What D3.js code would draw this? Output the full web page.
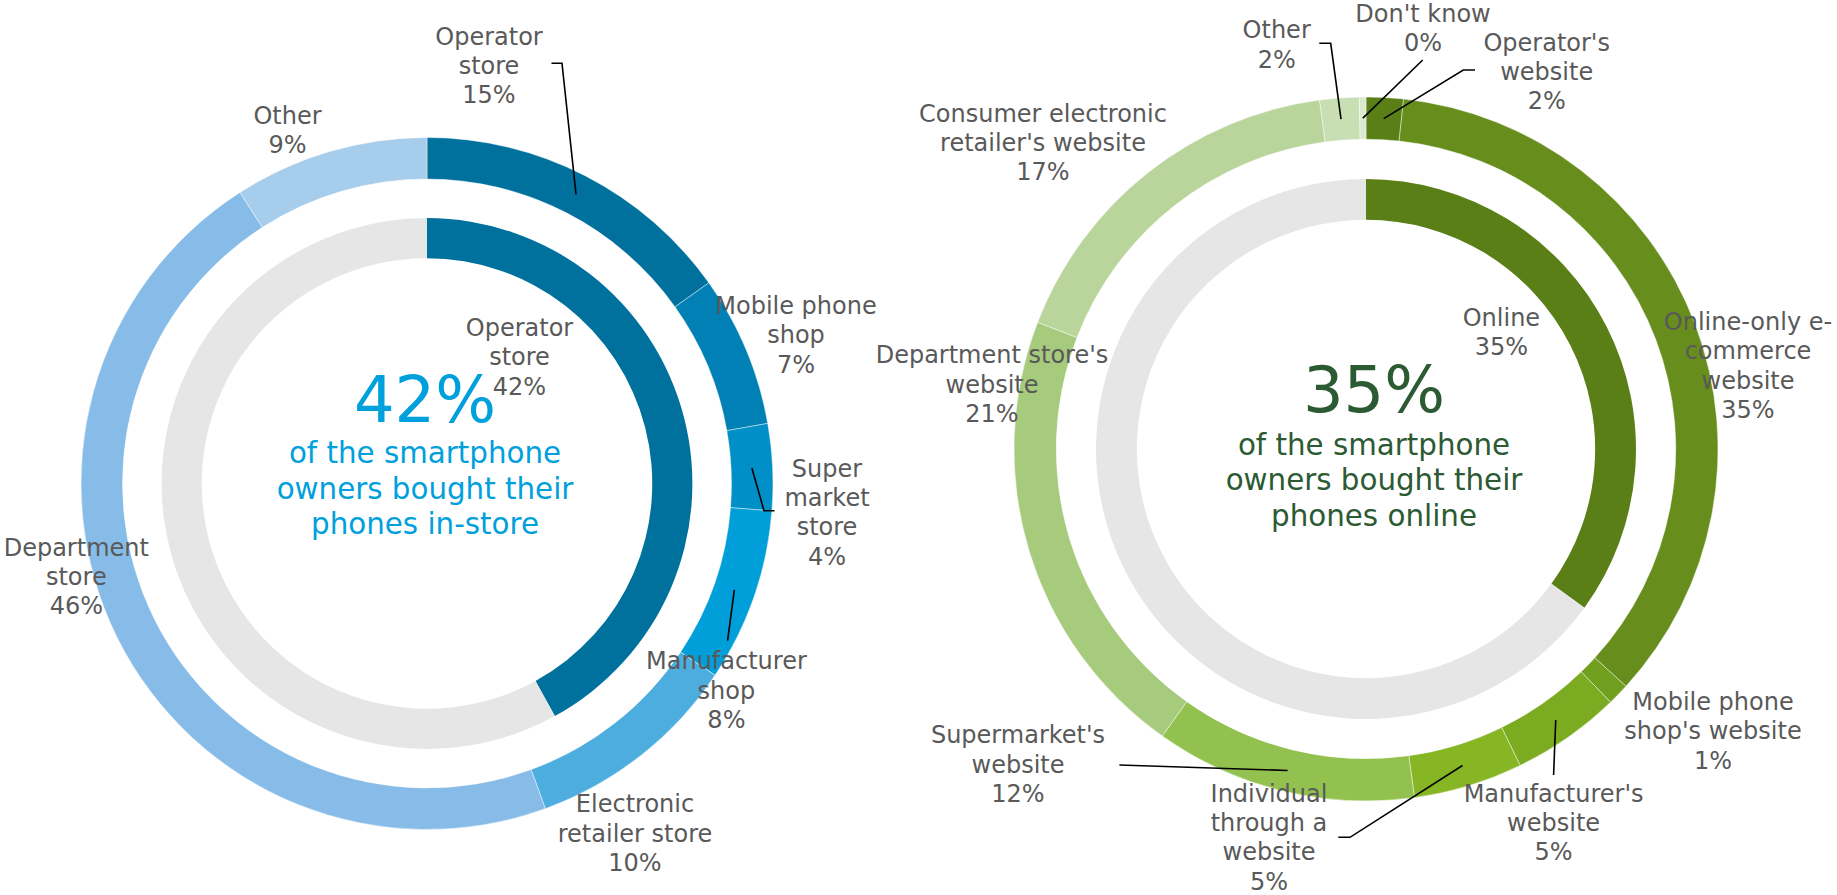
<!DOCTYPE html>
<html><head><meta charset="utf-8">
<script src="https://cdn.jsdelivr.net/npm/d3@7"></script>
<style>
html,body{margin:0;padding:0;background:#fff;overflow:hidden;}
svg{display:block;font-family:"DejaVu Sans",Verdana,sans-serif;}
</style></head><body>
<svg id="chart" width="1837" height="895"></svg>
<script>
// ---------- DATA ----------
// In-store chart (left)
const storeCategories = ["Operator\nstore", "Mobile phone\nshop", "Super\nmarket\nstore", "Manufacturer\nshop", "Electronic\nretailer store", "Department\nstore", "Other"];
const storeValues = [15, 7, 4, 8, 10, 46, 9];
const storeShareCategories = ["Operator\nstore", "Rest"];
const storeShareValues = [42, 58];
const storeHeadline = "42%";
const storeSubtitle = ["of the smartphone", "owners bought their", "phones in-store"];

// Online chart (right) — slice sizes, labels show rounded values
const onlineCategories = ["Operator's\nwebsite", "Online-only e-\ncommerce\nwebsite", "Mobile phone\nshop's website", "Manufacturer's\nwebsite", "Individual\nthrough a\nwebsite", "Supermarket's\nwebsite", "Department store's\nwebsite", "Consumer electronic\nretailer's website", "Other", "Don't know"];
const onlineValues = [1.7, 35, 1, 5, 5, 12, 21, 17, 1.8, 0.3];
const onlineShareCategories = ["Online", "Rest"];
const onlineShareValues = [35, 65];
const onlineHeadline = "35%";
const onlineSubtitle = ["of the smartphone", "owners bought their", "phones online"];

// ---------- STYLE ----------
const storeColors = ["#00709d", "#0080b4", "#008fc6", "#009fd9", "#4eaddf", "#86bce7", "#a7cdec"];
const storeShareColors = ["#00709d", "#e6e6e6"];
const onlineColors = ["#5a7f17", "#678e1d", "#719f1f", "#7bab21", "#86b624", "#93c14f", "#a7cb7d", "#b9d59c", "#c8dfb3", "#dbe9ce"];
const onlineShareColors = ["#5a7f17", "#e6e6e6"];

// ---------- LAYOUT (label anchors: centre x, first baseline y; leader elbow points) ----------
const storeLayout = {
  cx: 427, cy: 483.5, R: 346, accent: "#00a0dc",
  headline: [425, 421.7], subtitleY: 463.3,
  shareLabel: [519.5, 336],
  labels: [
    {x: 489, y: 44.5, leader: [[551.5, 63.3], [562, 63.3]]},
    {x: 796, y: 314},
    {x: 827, y: 476.7, leader: [[774.5, 510.7], [764, 510.7]]},
    {x: 726.4, y: 669.3, leader: [[727.6, 640.7]]},
    {x: 635, y: 812.3},
    {x: 76.3, y: 555.7},
    {x: 287.5, y: 124}
  ]
};
const onlineLayout = {
  cx: 1366, cy: 449, R: 352, accent: "#2c5a33",
  headline: [1374, 411.7], subtitleY: 455,
  shareLabel: [1501.4, 326],
  labels: [
    {x: 1546.7, y: 50.7, leader: [[1475, 70], [1463.3, 70]]},
    {x: 1748, y: 330},
    {x: 1713, y: 710},
    {x: 1553.6, y: 801.7, leader: [[1553.6, 775]]},
    {x: 1269, y: 801.7, leader: [[1338.3, 837.3], [1350, 837.3]]},
    {x: 1018, y: 743.3, leader: [[1119.4, 765]]},
    {x: 992, y: 363.3},
    {x: 1043, y: 121.7},
    {x: 1276.7, y: 38.3, leader: [[1319.3, 43.3], [1330.7, 43.3]]},
    {x: 1423, y: 21.7, leader: [[1422.7, 60]]}
  ]
};

const LABEL_SIZE = 24, LABEL_LH = 29.3, SUB_SIZE = 29.33, SUB_LH = 35.4, HEAD_SIZE = 64;
const TEXT_GREY = "#595959";

const svg = d3.select("#chart");

function multiLine(sel, lines, x, y, lh) {
  lines.forEach((t, i) => {
    sel.append("tspan").attr("x", x).attr("y", y + i * lh).text(t);
  });
}

function drawDonut(cats, vals, colors, shareCats, shareVals, shareColors, headline, subtitle, L) {
  const g = svg.append("g").attr("transform", `translate(${L.cx},${L.cy})`);
  const pie = d3.pie().sort(null).value(d => d.value).startAngle(0).endAngle(2 * Math.PI);
  const outerArc = d3.arc().innerRadius(L.R * 0.88).outerRadius(L.R);
  const innerArc = d3.arc().innerRadius(L.R * 0.651).outerRadius(L.R * 0.767);

  const outerData = pie(cats.map((c, i) => ({cat: c, value: vals[i], i})));
  const innerData = pie(shareCats.map((c, i) => ({cat: c, value: shareVals[i], i})));

  g.selectAll("path.inner").data(innerData).join("path")
    .attr("class", "inner").attr("d", innerArc)
    .attr("fill", d => shareColors[d.data.i]);

  g.selectAll("path.outer").data(outerData).join("path")
    .attr("class", "outer").attr("d", outerArc)
    .attr("fill", d => colors[d.data.i])
    .attr("stroke", "rgba(255,255,255,0.55)").attr("stroke-width", 0.8);

  // leaders
  outerData.forEach(d => {
    const lay = L.labels[d.data.i];
    if (!lay.leader) return;
    const c = outerArc.centroid(d);
    const pts = lay.leader.concat([[c[0] + L.cx, c[1] + L.cy]]);
    svg.append("path")
      .attr("d", d3.line()(pts))
      .attr("fill", "none").attr("stroke", "#000").attr("stroke-width", 1.6);
  });

  // outer labels
  outerData.forEach(d => {
    const lay = L.labels[d.data.i];
    const lines = d.data.cat.split("\n").concat([Math.round(d.data.value) + "%"]);
    const t = svg.append("text").attr("text-anchor", "middle")
      .attr("font-size", LABEL_SIZE).attr("fill", TEXT_GREY);
    multiLine(t, lines, lay.x, lay.y, LABEL_LH);
  });

  // inner share label
  {
    const d = innerData[0];
    const lines = d.data.cat.split("\n").concat([Math.round(d.data.value) + "%"]);
    const t = svg.append("text").attr("text-anchor", "middle")
      .attr("font-size", LABEL_SIZE).attr("fill", TEXT_GREY);
    multiLine(t, lines, L.shareLabel[0], L.shareLabel[1], LABEL_LH);
  }

  // headline
  svg.append("text").attr("text-anchor", "middle")
    .attr("x", L.headline[0]).attr("y", L.headline[1])
    .attr("font-size", HEAD_SIZE).attr("fill", L.accent).text(headline);
  const st = svg.append("text").attr("text-anchor", "middle")
    .attr("font-size", SUB_SIZE).attr("fill", L.accent);
  multiLine(st, subtitle, L.headline[0], L.subtitleY, SUB_LH);
}

drawDonut(storeCategories, storeValues, storeColors, storeShareCategories, storeShareValues, storeShareColors, storeHeadline, storeSubtitle, storeLayout);
drawDonut(onlineCategories, onlineValues, onlineColors, onlineShareCategories, onlineShareValues, onlineShareColors, onlineHeadline, onlineSubtitle, onlineLayout);
</script>
</body></html>
